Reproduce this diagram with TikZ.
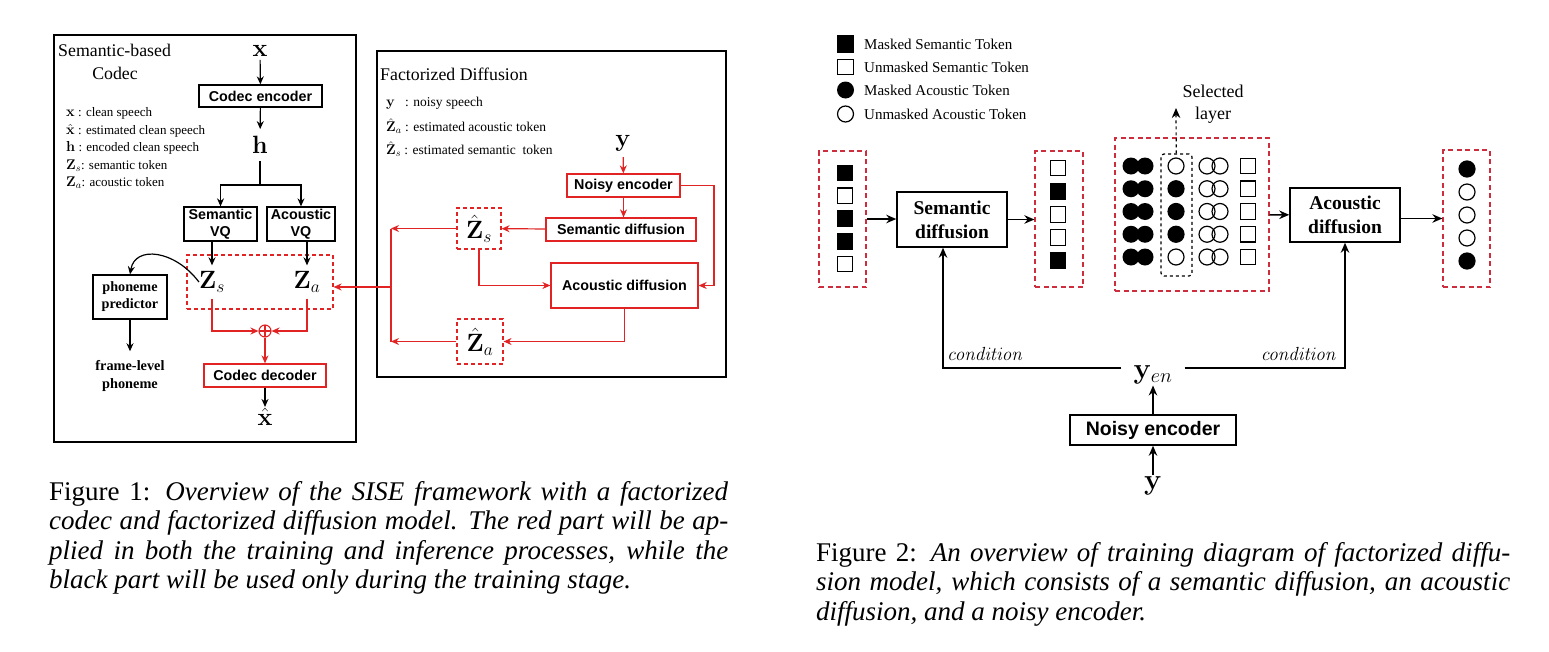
\RequirePackage{fix-cm}
\documentclass[tikz,border=0pt]{standalone}
\usepackage[no-math]{fontspec}
\setmainfont{Liberation Serif}
\setsansfont{Liberation Sans}
\usetikzlibrary{arrows.meta,calc}
\definecolor{myred}{RGB}{225,35,35}
\definecolor{dashred}{RGB}{205,45,60}
\newcommand\fsz[2]{\fontsize{#1}{#2}\selectfont}
\tikzset{
  every node/.style={inner sep=0pt},
  arr/.style={-{Stealth[length=8pt,width=7pt]}, line width=1.2pt},
  rarr/.style={arr, draw=myred},
  arrb/.style={-{Stealth[length=10pt,width=8.5pt]}, line width=1.5pt},
  boxa/.style={draw, line width=1.3pt, font={\sffamily\bfseries\fsz{14.3}{17}}, align=center},
  rboxa/.style={boxa, draw=myred},
  rdash/.style={draw=myred, line width=1.1pt, dash pattern=on 4pt off 3pt},
  rdashb/.style={draw=dashred, line width=1.3pt, dash pattern=on 5pt off 3.5pt},
  mbig/.style={font={\fsz{25}{25}}},
  leg/.style={anchor=west, font={\fsz{13}{15}}},
  sq/.style={draw, line width=1.2pt, minimum size=15.5pt},
  ci/.style={circle, draw, line width=1.2pt, minimum size=16pt},
  bigbox/.style={draw, line width=1.5pt, align=center, font={\bfseries\fsz{19.5}{24}}},
}
\begin{document}
\begin{tikzpicture}[x=1pt,y=-1pt]
\useasboundingbox (0,0) rectangle (1549,651);
% ================= Figure 1 =================
\node[draw, line width=1.2pt, minimum width=302pt, minimum height=407pt] (codecbox) at (205,238.5) {};
\node[anchor=west, font={\fsz{17.8}{20}}] (sbt) at (58,50) {Semantic-based};
\node[font={\fsz{17.8}{20}}] (sbc) at (115,73) {Codec};
\node[font={\fsz{25}{25}}, inner ysep=3pt] (x) at (260,51) {$\mathbf{x}$};
\node[boxa, minimum width=123pt, minimum height=22pt] (ce) at (260.5,96) {Codec encoder};
\node[mbig, inner ysep=7pt] (h) at (260,145) {$\mathbf{h}$};
\coordinate (split) at (260,185);
\node[boxa, minimum width=73pt, minimum height=34pt] (svq) at (220.5,224) {Semantic\\VQ};
\node[boxa, minimum width=68pt, minimum height=34pt] (avq) at (301,224) {Acoustic\\VQ};
\draw[arr] (x) -- (ce);
\draw[arr] (ce) -- (h);
\draw[line width=1.2pt] (h) -- (split);
\draw[arr] (split) -| (svq);
\draw[arr] (split) -| (avq);
% legend
\node[leg] (l1) at (66,113) {{\fsz{14.5}{15}$\mathbf{x}$} : clean speech};
\node[leg] (l2) at (66,131) {{\fsz{14.5}{15}$\hat{\mathbf{x}}$} : estimated clean speech};
\node[leg] (l3) at (66,148) {{\fsz{14.5}{15}$\mathbf{h}$} : encoded clean speech};
\node[leg] (l4) at (66,166) {{\fsz{14}{15}$\mathbf{Z}_s$}: semantic token};
\node[leg] (l5) at (66,183) {{\fsz{14}{15}$\mathbf{Z}_a$}: acoustic token};
% tokens
\node[rdash, minimum width=146pt, minimum height=54pt] (zbox) at (260,282) {};
\node[mbig, inner ysep=6pt] (zs) at (212,282) {$\mathbf{Z}_s$};
\node[mbig, inner ysep=6pt] (za) at (307,282) {$\mathbf{Z}_a$};
\draw[arr] (svq.south -| zs) -- (zs);
\draw[arr] (avq.south -| za) -- (za);
\node[circle, draw=myred, line width=1.1pt, minimum size=12pt,
  path picture={\draw[myred, line width=1.1pt] (path picture bounding box.north) -- (path picture bounding box.south) (path picture bounding box.west) -- (path picture bounding box.east);}] (op) at (265,331) {};
\draw[rarr] (zs.south) |- (op);
\draw[rarr] (za.south) |- (op);
\node[rboxa, minimum width=122pt, minimum height=23pt] (cd) at (265,375.5) {Codec decoder};
\draw[rarr] (op) -- (cd);
\node[mbig, inner ysep=1pt] (xh) at (265,417) {$\hat{\mathbf{x}}$};
\draw[arr] (cd) -- (xh);
% phoneme predictor
\node[draw, line width=1.3pt, minimum width=74pt, minimum height=44pt, align=center, font={\bfseries\fsz{14.2}{17}}] (pp) at (130,297) {phoneme\\predictor};
\draw[arr] (zs.west) .. controls (175,250) and (135,245) .. (pp.north);
\node[align=center, font={\bfseries\fsz{14.3}{18}}, inner ysep=9pt] (fl) at (130,376) {frame-level\\phoneme};
\draw[arr] (pp) -- (fl);
% ================= Factorized diffusion =================
\node[draw, line width=1.2pt, minimum width=349pt, minimum height=326pt] (fdbox) at (551.5,214) {};
\node[anchor=west, font={\fsz{17.8}{20}}] (fdt) at (380,74) {Factorized Diffusion};
\node[leg, font={\fsz{13.5}{15}}] (f1) at (386,103) {{\fsz{14.5}{15}$\mathbf{y}$}\ \ \ : noisy speech};
\node[leg, font={\fsz{13.5}{15}}] (f2) at (386,126) {{\fsz{14}{15}$\hat{\mathbf{Z}}_a$} : estimated acoustic token};
\node[leg, font={\fsz{13.5}{15}}] (f3) at (386,149) {{\fsz{14}{15}$\hat{\mathbf{Z}}_s$} : estimated semantic\ \ token};
\node[mbig, inner ysep=6pt] (fy) at (623,143) {$\mathbf{y}$};
\node[rboxa, minimum width=113pt, minimum height=23pt] (ne) at (623.5,185.5) {Noisy encoder};
\node[rboxa, minimum width=150pt, minimum height=23pt] (sd) at (621,229.5) {Semantic diffusion};
\node[rdash, minimum width=44pt, minimum height=41pt, mbig] (zsh) at (479,228.5) {$\hat{\mathbf{Z}}_s$};
\node[rboxa, minimum width=147pt, minimum height=45pt] (ad) at (624.5,285.5) {Acoustic diffusion};
\node[rdash, minimum width=46pt, minimum height=45pt, mbig] (zah) at (480,341.5) {$\hat{\mathbf{Z}}_a$};
\coordinate (neR) at (714,185.5);
\coordinate (jt) at (391,228.5);
\coordinate (jb) at (391,341.5);
\coordinate (jm) at (391,287);
\draw[rarr] (fy) -- (ne);
\draw[rarr] (ne.east) -- (neR) |- (ad.east);
\draw[rarr] (ne.south) -- (ne.south |- sd.north);
\draw[rarr] (sd) -- (zsh);
\draw[rarr] (zsh) -- (jt);
\draw[rarr] (zah) -- (jb);
\draw[myred, line width=1.2pt] (jt) -- (jb);
\draw[rarr] (jm) -- (jm -| zbox.east);
\draw[rarr] (zsh) |- (ad);
\draw[rarr] (ad) |- (zah);
% ================= Figure 2 =================
\node[sq, fill=black, minimum size=16pt] (lg1) at (845.5,44) {};
\node[sq] (lg2) at (845.5,67) {};
\node[circle, fill=black, minimum size=17pt] (lg3) at (845.5,90) {};
\node[ci] (lg4) at (845.5,114) {};
\node[anchor=west, font={\fsz{15}{17}}] (lt1) at (864,44) {Masked Semantic Token};
\node[anchor=west, font={\fsz{15}{17}}] (lt2) at (864,67) {Unmasked Semantic Token};
\node[anchor=west, font={\fsz{15}{17}}] (lt3) at (864,90) {Masked Acoustic Token};
\node[anchor=west, font={\fsz{15}{17}}] (lt4) at (864,114) {Unmasked Acoustic Token};
% left token box
\node[rdashb, minimum width=47pt, minimum height=136pt] (lb) at (842.5,219) {};
\foreach \f [count=\i from 0] in {black,white,black,black,white}
  \node[sq, fill=\f] (la\i) at (845,{173+22.75*\i}) {};
\node[bigbox, minimum width=110pt, minimum height=55pt] (sd2) at (952,219.5) {Semantic\\diffusion};
\draw[arrb] (lb.east) -- (lb.east -| sd2.west);
% right token box
\node[rdashb, minimum width=48pt, minimum height=136pt] (rb) at (1059,219) {};
\foreach \f [count=\i from 0] in {white,black,white,white,black}
  \node[sq, fill=\f] (ra\i) at (1058,{168+23.2*\i}) {};
\draw[arrb] (sd2.east) -- (sd2.east -| rb.west);
% big acoustic token box
\node[rdashb, minimum width=154pt, minimum height=153pt] (bb) at (1192,214.5) {};
\foreach \i in {0,...,4} {
  \node[circle, fill=black, minimum size=17pt] (c1\i) at (1131,{166+22.75*\i}) {};
  \node[circle, fill=black, minimum size=17pt] (c2\i) at (1145,{166+22.75*\i}) {};
  \node[ci] (c4\i) at (1207,{166+22.75*\i}) {};
  \node[ci] (c5\i) at (1220,{166+22.75*\i}) {};
  \node[sq] (c6\i) at (1248,{166+22.75*\i}) {};
}
\foreach \f [count=\i from 0] in {white,black,black,black,white}
  \node[ci, fill=\f] (c3\i) at (1176,{166+22.75*\i}) {};
\node[draw, dashed, rounded corners=3pt, line width=1.2pt, minimum width=31pt, minimum height=122pt] (sel) at (1176.5,215) {};
\coordinate (selTip) at (1176,108);
\draw[arrb, dashed, line width=1.2pt] (sel) -- (selTip);
\node[align=center, font={\fsz{18}{22}}] (sl) at (1213,104) {Selected\\layer};
\node[bigbox, minimum width=110pt, minimum height=54pt] (ad2) at (1345,215) {Acoustic\\diffusion};
\draw[arrb] (bb) -- (ad2);
\node[rdashb, minimum width=47pt, minimum height=137pt] (rb2) at (1466.5,218.5) {};
\foreach \f [count=\i from 0] in {black,white,white,white,black}
  \node[ci, fill=\f] (rc\i) at (1467,{169+23*\i}) {};
\draw[arrb] (ad2.east |- rb2) -- (rb2);
% condition
\node[font={\fsz{29}{29}}, inner xsep=12pt, inner ysep=1pt] (yen) at (1153,375) {$\mathbf{y}_{en}$};
\draw[arrb] ($(yen.west)+(0,-7)$) -| ($(sd2.south)+(-9,0)$);
\draw[arrb] ($(yen.east)+(0,-7)$) -| (ad2.south);
\node[anchor=base west, font={\fsz{19}{19}}] (cl) at (947,360) {$\mathit{condition}$};
\node[anchor=base east, font={\fsz{19}{19}}] (cr) at (1337,360) {$\mathit{condition}$};
\node[draw, line width=1.5pt, minimum width=166pt, minimum height=30pt, font={\sffamily\bfseries\fsz{19.5}{20}}] (ne2) at (1153,430) {Noisy encoder};
\draw[arrb] (ne2) -- (yen);
\node[font={\fsz{29}{29}}, inner ysep=2pt] (y2) at (1153,486) {$\mathbf{y}$};
\draw[arrb] (y2) -- (ne2);
% ================= Captions =================
\node[anchor=base west, font={\fsz{27}{30}}] (cap1a) at (49,500) {\makebox[679pt][s]{Figure 1: \textit{Overview of the SISE framework with a factorized}}};
\node[anchor=base west, font={\fsz{27}{30}}] (cap1b) at (49,529.5) {\makebox[679pt][s]{\textit{codec and factorized diffusion model. The red part will be ap-}}};
\node[anchor=base west, font={\fsz{27}{30}}] (cap1c) at (49,559) {\makebox[679pt][s]{\textit{plied in both the training and inference processes, while the}}};
\node[anchor=base west, font={\fsz{27}{30}}] (cap1d) at (49,588.5) {\textit{black part will be used only during the training stage.}};
\node[anchor=base west, font={\fsz{27}{30}}] (cap2a) at (816,561) {\makebox[694pt][s]{Figure 2: \textit{An overview of training diagram of factorized diffu-}}};
\node[anchor=base west, font={\fsz{27}{30}}] (cap2b) at (816,590.5) {\makebox[694pt][s]{\textit{sion model, which consists of a semantic diffusion, an acoustic}}};
\node[anchor=base west, font={\fsz{27}{30}}] (cap2c) at (816,620) {\textit{diffusion, and a noisy encoder.}};
\end{tikzpicture}
\end{document}
